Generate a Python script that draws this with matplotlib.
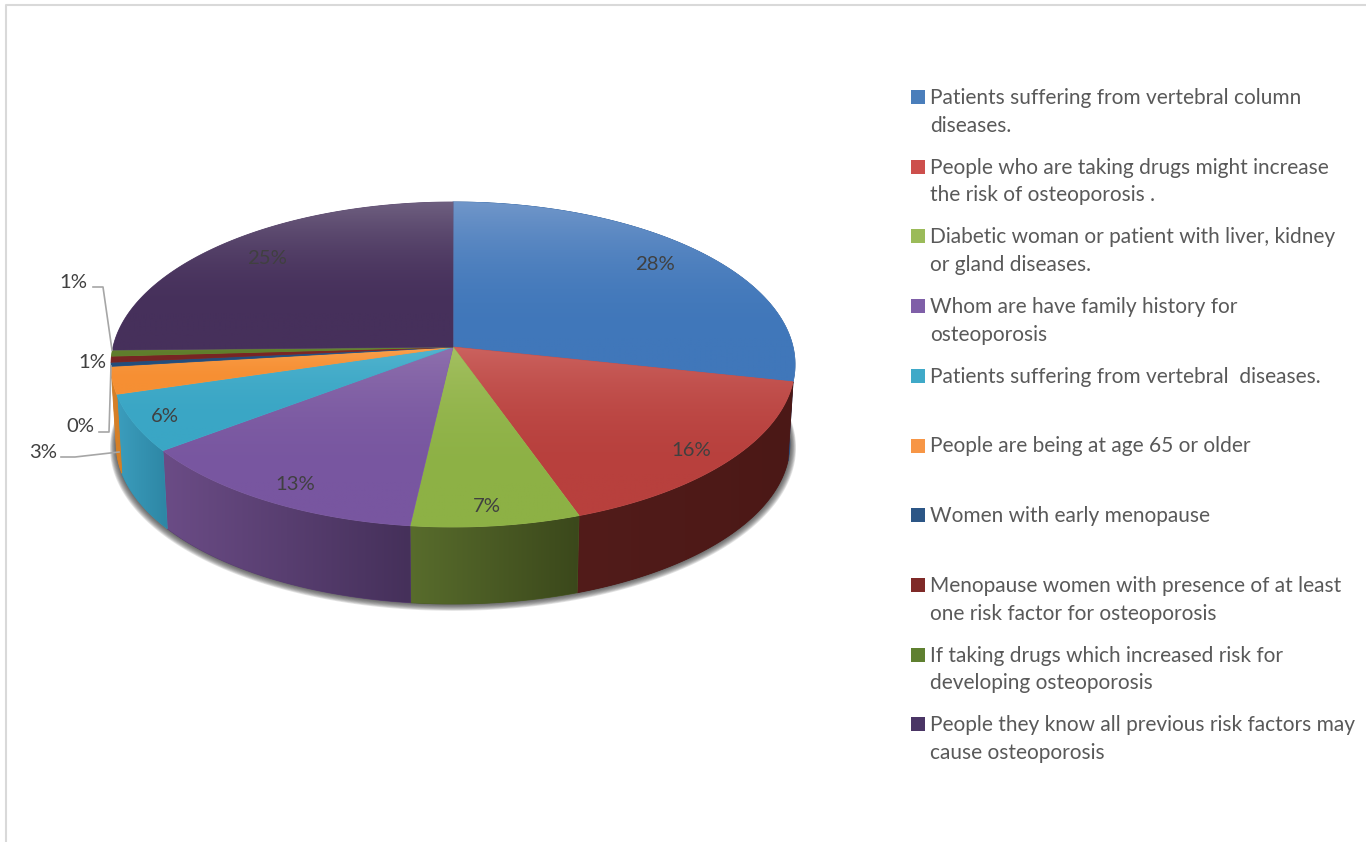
#! /usr/bin/env python

import matplotlib
matplotlib.use("Agg")
import matplotlib.pyplot as plt
from matplotlib.colors import to_rgb
from matplotlib.patches import Polygon
import numpy

########################################################################

percent = [28.4, 16.2, 7.2, 12.9, 5.7, 2.7, 0.4, 0.6, 0.6, 25.3]

legend_lines = [
    ["Patients suffering from vertebral column", "diseases."],
    ["People who are taking drugs might increase", "the risk of osteoporosis ."],
    ["Diabetic woman or patient with liver, kidney", "or gland diseases."],
    ["Whom are have family history for", "osteoporosis"],
    ["Patients suffering from vertebral  diseases."],
    ["People are being at age 65 or older"],
    ["Women with early menopause"],
    ["Menopause women with presence of at least", "one risk factor for osteoporosis"],
    ["If taking drugs which increased risk for", "developing osteoporosis"],
    ["People they know all previous risk factors may", "cause osteoporosis"],
]

# top face shading, light edge then body colour
top_colors = [
    ("#7096c9", "#4077ba"), ("#cb625e", "#b8403d"), ("#a4c061", "#8db145"),
    ("#8e70ad", "#7856a0"), ("#52b4cf", "#3aa6c5"), ("#fba351", "#f68f33"),
    ("#2f5f92", "#234d7c"), ("#8c2f2c", "#772523"), ("#6f9136", "#5f7d2c"),
    ("#6f6080", "#46305b"),
]

# side wall shading, left colour then right colour
wall_colors = [
    ("#2a4f80", "#2a4f80"), ("#521c1a", "#4b1816"), ("#586c2c", "#3b481b"),
    ("#6b4c86", "#45305a"), ("#3b9dbd", "#2d86a4"), ("#d67f26", "#d67f26"),
]

legend_colors = ["#4a7ebb", "#cd4f4c", "#9bbb59", "#7f5fa8", "#3fa9c8",
                 "#f79646", "#2c5686", "#7f2a28", "#5f8030", "#4a3565"]

# where the value labels sit, in pixels
label_xy = [(655, 265), (691, 451), (487, 506), (295, 485), (165, 416),
            (43, 452), (80, 426), (92, 362), (73, 282), (267, 259)]

leaders = [
    ([93, 103, 112], [287, 287, 350]),
    ([99, 109, 111], [432, 432, 366]),
    ([61, 75, 119], [457, 457, 452]),
]

CX, CY = 453, 347
RX, RY = 340, 160.6
PERSP = 0.1077
DEPTH = 79.7
BOTTOM_SCALE = 0.985

########################################################################

def rim(t, scale=1.0, drop=0.0):
    """
    Project points of the pie's circular rim to the page

    Arguments:
        t      angle clockwise from twelve o'clock, radians
        scale  shrink factor of the ring
        drop   downward shift, pixels
    """
    u, v = numpy.sin(t), -numpy.cos(t)
    d = 1 - PERSP * v
    return (CX + scale * RX * u / d,
            CY + drop + scale * RY * v / d)

########################################################################

def fill_gradient(ax, xs, ys, c0, c1, vertical, zorder):
    """
    Fill a polygon with a two colour gradient

    Arguments:
        xs, ys    polygon outline
        c0, c1    start and end colours
        vertical  True for top to bottom, False for left to right
    """
    pts = numpy.column_stack([xs, ys])
    c0, c1 = numpy.array(to_rgb(c0)), numpy.array(to_rgb(c1))
    ramp = numpy.linspace(0, 1, 128)
    if vertical:
        # the highlight eases out over the upper part of the slice
        f = (1 - (1 - numpy.clip(ramp / 0.75, 0, 1))**2)[:, None, None]
    else:
        f = ramp[None, :, None]
    img = c0[None, None, :] * (1 - f) + c1[None, None, :] * f
    mid = (c0 + c1) / 2
    patch = Polygon(pts, closed=True, facecolor=mid, edgecolor=mid,
                    linewidth=0.6, zorder=zorder)
    ax.add_patch(patch)
    im = ax.imshow(img, extent=(xs.min(), xs.max(), ys.max(), ys.min()),
                   aspect="auto", interpolation="bilinear", zorder=zorder)
    im.set_clip_path(Polygon(pts, closed=True, transform=ax.transData))

########################################################################

def plot_pie(ax, values):
    """
    Draw the tilted pie: shadow, side walls, then top slices

    Arguments:
        ax
        values  percentages, clockwise from twelve o'clock
    """
    edges = numpy.radians(numpy.cumsum([0] + list(values)) * 3.6)
    ring = numpy.linspace(0, 2 * numpy.pi, 361)

    # soft shadow under the pie
    for grow in numpy.arange(9, 0, -1):
        sx, sy = rim(ring, BOTTOM_SCALE + grow * 0.002, DEPTH + grow * 0.4)
        ax.add_patch(Polygon(numpy.column_stack([sx, sy]), closed=True,
                             facecolor="#404040", edgecolor="none",
                             alpha=0.14, zorder=1))

    # only the front slices show a wall
    for i in range(len(wall_colors)):
        t = numpy.linspace(edges[i], edges[i + 1], 80)
        x0, y0 = rim(t)
        x1, y1 = rim(t, BOTTOM_SCALE, DEPTH)
        xs = numpy.concatenate([x0, x1[::-1]])
        ys = numpy.concatenate([y0, y1[::-1]])
        fill_gradient(ax, xs, ys, wall_colors[i][0], wall_colors[i][1],
                      False, 2)

    for i in range(len(values)):
        t = numpy.linspace(edges[i], edges[i + 1], 120)
        x0, y0 = rim(t)
        xs = numpy.concatenate([[CX], x0])
        ys = numpy.concatenate([[CY], y0])
        fill_gradient(ax, xs, ys, top_colors[i][0], top_colors[i][1],
                      True, 3)

########################################################################

def plot_legend(ax):
    """
    Draw the legend squares and their wrapped labels
    """
    for i, lines in enumerate(legend_lines):
        y = 97 + 69.7 * i
        ax.add_patch(Polygon([(911, y - 7), (925, y - 7),
                              (925, y + 7), (911, y + 7)],
                             closed=True, facecolor=legend_colors[i],
                             edgecolor="none", zorder=4))
        for j, line in enumerate(lines):
            ax.text(930, y + 1 + 27.7 * j, line, family="Lato", fontsize=15,
                    color="#595959", ha="left", va="center", zorder=5)

########################################################################

fig = plt.figure(figsize=(13.66, 8.42), dpi=100)
ax = fig.add_axes([0, 0, 1, 1])

plot_pie(ax, percent)

for value, (x, y) in zip(percent, label_xy):
    ax.text(x, y, "%d%%" % round(value), family="Lato", fontsize=14.6,
            color="#404040", ha="center", va="center", zorder=6)

for xs, ys in leaders:
    ax.plot(xs, ys, color="#a6a6a6", linewidth=1.2, zorder=5)

plot_legend(ax)

# thin frame along the top and left edges
ax.plot([6, 6, 1366], [842, 4.5, 4.5], color="#d9d9d9", linewidth=1.5, zorder=1)

ax.set_xlim(0, 1366)
ax.set_ylim(842, 0)
ax.axis("off")
fig.savefig("out.png", dpi=100)
